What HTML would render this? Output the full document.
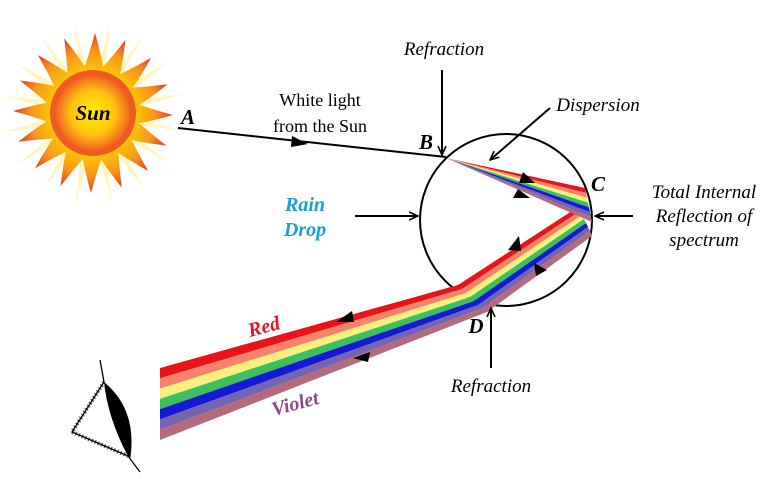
<!DOCTYPE html>
<html><head><meta charset="utf-8"><style>
html,body{margin:0;padding:0;background:#fff;}
svg{display:block}
text{font-family:"Liberation Serif",serif;}
</style></head><body>
<svg width="776" height="479" viewBox="0 0 776 479" xmlns="http://www.w3.org/2000/svg">
<defs>
<radialGradient id="core" cx="50%" cy="50%" r="50%">
<stop offset="0" stop-color="#fff200"/><stop offset="0.6" stop-color="#ffc20e"/><stop offset="1" stop-color="#f26522"/>
</radialGradient>
<linearGradient id="rayg" x1="0" y1="1" x2="0" y2="0">
<stop offset="0" stop-color="#ffd200"/><stop offset="0.6" stop-color="#f7941d"/><stop offset="1" stop-color="#e8361a"/>
</linearGradient>
<path id="ray" d="M-12,-36 Q-4,-58 2,-80 Q9,-56 12,-36 Z" fill="url(#rayg)"/>
<path id="pale" d="M-4,-40 L0,-92 L4,-40 Z" fill="#fff3b0"/>
<marker id="ah" markerWidth="10" markerHeight="10" refX="9" refY="5" orient="auto" markerUnits="userSpaceOnUse"><path d="M0,1 L9,5 L0,9" fill="none" stroke="#000" stroke-width="1.6"/></marker>
</defs>

<g transform="translate(93,113)">
<g opacity="0.8">
<use href="#pale" transform="rotate(11)"/><use href="#pale" transform="rotate(33)"/><use href="#pale" transform="rotate(56)"/><use href="#pale" transform="rotate(78)"/><use href="#pale" transform="rotate(101)"/><use href="#pale" transform="rotate(123)"/><use href="#pale" transform="rotate(146)"/><use href="#pale" transform="rotate(168)"/><use href="#pale" transform="rotate(191)"/><use href="#pale" transform="rotate(213)"/><use href="#pale" transform="rotate(236)"/><use href="#pale" transform="rotate(258)"/><use href="#pale" transform="rotate(281)"/><use href="#pale" transform="rotate(303)"/><use href="#pale" transform="rotate(326)"/><use href="#pale" transform="rotate(348)"/>
</g>
<use href="#ray" transform="rotate(0)"/><use href="#ray" transform="rotate(22.5)"/><use href="#ray" transform="rotate(45)"/><use href="#ray" transform="rotate(67.5)"/><use href="#ray" transform="rotate(90)"/><use href="#ray" transform="rotate(112.5)"/><use href="#ray" transform="rotate(135)"/><use href="#ray" transform="rotate(157.5)"/><use href="#ray" transform="rotate(180)"/><use href="#ray" transform="rotate(202.5)"/><use href="#ray" transform="rotate(225)"/><use href="#ray" transform="rotate(247.5)"/><use href="#ray" transform="rotate(270)"/><use href="#ray" transform="rotate(292.5)"/><use href="#ray" transform="rotate(315)"/><use href="#ray" transform="rotate(337.5)"/>
<circle r="43" fill="#ee5a1f"/>
<circle r="37" fill="url(#core)"/>
</g>
<text x="93" y="120" font-size="21" font-weight="bold" font-style="italic" text-anchor="middle">Sun</text>

<line x1="178" y1="128" x2="446" y2="157" stroke="#000" stroke-width="2"/>
<path d="M292,136 L308,144 L291,147 Z" fill="#000"/>

<circle cx="506" cy="220" r="86" fill="none" stroke="#000" stroke-width="2"/>

<g>
<polygon points="160,368 458,285 578,207 580,211 462,289 160,378.3" fill="#e8141a"/>
<polygon points="160,378.3 462,289 580,211 582,215 466,293 160,388.6" fill="#f6826a"/>
<polygon points="160,388.6 466,293 582,215 584,219 470,297 160,398.9" fill="#f7f07c"/>
<polygon points="160,398.9 470,297 584,219 586,223 474,301 160,409.1" fill="#3cbf5c"/>
<polygon points="160,409.1 474,301 586,223 588,227 478,305 160,419.4" fill="#1717d6"/>
<polygon points="160,419.4 478,305 588,227 590,231 482,308.5 160,429.7" fill="#7466ae"/>
<polygon points="160,429.7 482,308.5 590,231 592,236 487,312 160,440" fill="#b56a7c"/>
</g>
<g>
<polygon points="446,158 585,188 586,192.9" fill="#e8141a"/>
<polygon points="446,158 586,192.9 587,197.7" fill="#f6826a"/>
<polygon points="446,158 587,197.7 588,202.6" fill="#f7f07c"/>
<polygon points="446,158 588,202.6 589,207.4" fill="#3cbf5c"/>
<polygon points="446,158 589,207.4 590,212.3" fill="#1717d6"/>
<polygon points="446,158 590,212.3 591,217.1" fill="#7466ae"/>
<polygon points="446,158 591,217.1 592,222" fill="#b56a7c"/>
</g>
<path d="M523,172 L535,183 L519,183 Z" fill="#000"/>
<path d="M518,189 L530,198 L513,198 Z" fill="#000"/>
<path d="M519,236 L508,250 L521,251 Z" fill="#000"/>
<path d="M534,263 L547,270 L536,276 Z" fill="#000"/>
<path d="M352,311 L336,322 L354,322 Z" fill="#000"/>
<path d="M370,352 L353,358 L368,362 Z" fill="#000"/>

<line x1="442" y1="70" x2="442" y2="155" stroke="#000" stroke-width="2" marker-end="url(#ah)"/>
<line x1="550" y1="108" x2="490" y2="160" stroke="#000" stroke-width="2" marker-end="url(#ah)"/>
<line x1="355" y1="216" x2="418" y2="216" stroke="#000" stroke-width="2" marker-end="url(#ah)"/>
<line x1="633" y1="216" x2="595" y2="216" stroke="#000" stroke-width="2" marker-end="url(#ah)"/>
<line x1="491" y1="368" x2="491" y2="308" stroke="#000" stroke-width="2" marker-end="url(#ah)"/>

<g fill="none" stroke="#000" stroke-width="1.3">
<path d="M100,360 L104,382 L72,432 L128,456 L140,472"/>
<path d="M104,382 L72,432 L128,456" stroke-dasharray="1.5,2" stroke-width="4" opacity="0.6"/>
</g>
<path d="M104,382 Q138,410 130,460 Q108,420 104,382 Z" fill="#000"/>

<g font-style="italic">
<text x="444" y="55" font-size="19" text-anchor="middle">Refraction</text>
<text x="598" y="111" font-size="19" text-anchor="middle">Dispersion</text>
<text x="704" y="198" font-size="19" text-anchor="middle">Total Internal</text>
<text x="704" y="222" font-size="19" text-anchor="middle">Reflection of</text>
<text x="704" y="246" font-size="19" text-anchor="middle">spectrum</text>
<text x="305" y="211" font-size="20" font-weight="bold" fill="#1a9fd8" text-anchor="middle">Rain</text>
<text x="305" y="236" font-size="20" font-weight="bold" fill="#1a9fd8" text-anchor="middle">Drop</text>
<text x="491" y="392" font-size="19" text-anchor="middle">Refraction</text>
<text x="188" y="124" font-size="21" font-weight="bold" text-anchor="middle">A</text>
<text x="426" y="149" font-size="21" font-weight="bold" text-anchor="middle">B</text>
<text x="598" y="191" font-size="21" font-weight="bold" text-anchor="middle">C</text>
<text x="476" y="333" font-size="21" font-weight="bold" text-anchor="middle">D</text>
<text x="264" y="333" font-size="20" font-weight="bold" fill="#e8141a" text-anchor="middle" transform="rotate(-15 264 327)">Red</text>
<text x="295" y="410" font-size="20" font-weight="bold" fill="#8a4a8a" text-anchor="middle" transform="rotate(-15 295 403)">Violet</text>
</g>
<text x="320" y="106" font-size="18" text-anchor="middle">White light</text>
<text x="320" y="132" font-size="18" text-anchor="middle">from the Sun</text>
</svg>
</body></html>
